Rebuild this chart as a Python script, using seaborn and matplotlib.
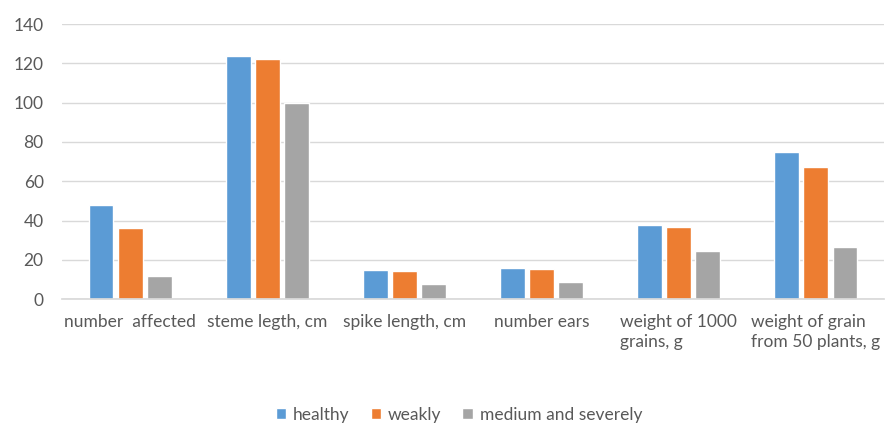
import pandas as pd
import matplotlib.pyplot as plt
import seaborn as sns

sns.set_theme(style="white")
plt.rcParams['font.family'] = ['Lato', 'DejaVu Sans']

# dados
categories = ["number  affected", "steme legth, cm", "spike length, cm", "number ears",
              "weight of 1000\ngrains, g", "weight of grain\nfrom 50 plants, g"]
groups = ["healthy", "weakly", "medium and severely"]
healthy = [48, 124, 15, 15.8, 37.5, 75]
weakly = [36, 122, 14.5, 15.3, 36.5, 67]
severe = [11.5, 100, 7.5, 8.5, 24.5, 26.5]

df = pd.DataFrame({
    'category': categories * 3,
    'group': [groups[0]] * 6 + [groups[1]] * 6 + [groups[2]] * 6,
    'value': healthy + weakly + severe,
})

colors = ["#5B9BD5", "#ED7D31", "#A5A5A5"]
text_color = "#595959"
fs = 12.5

fig = plt.figure(figsize=(8.95, 4.23), dpi=100)
ax = fig.add_axes([0.069, 0.293, 0.919, 0.65])

sns.barplot(data=df, x='category', y='value', hue='group', palette=colors,
            width=0.64, gap=0.15, saturation=1, ax=ax, legend=True)

ax.set_ylim(0, 140)
ax.set_yticks(range(0, 141, 20))
ax.yaxis.grid(True, color="#D9D9D9", linewidth=1)
ax.set_axisbelow(True)
for s in ['top', 'right', 'left']:
    ax.spines[s].set_visible(False)
ax.spines['bottom'].set_color("#D9D9D9")
ax.set_xlabel('')
ax.set_ylabel('')
ax.tick_params(axis='both', length=0, colors=text_color, labelsize=fs)
ax.tick_params(axis='y', pad=13)
ax.tick_params(axis='x', pad=11)
for lbl in ax.get_xticklabels():
    lbl.set_verticalalignment('top')
    lbl.set_multialignment('left')
    lbl.set_linespacing(1.25)

ax.legend(loc='center', bbox_to_anchor=(0.483, -0.42), ncol=3, frameon=False,
          fontsize=fs, labelcolor=text_color, handlelength=0.6, handleheight=0.6,
          handletextpad=0.4, columnspacing=1.2)

plt.savefig("out.png", dpi=100)
